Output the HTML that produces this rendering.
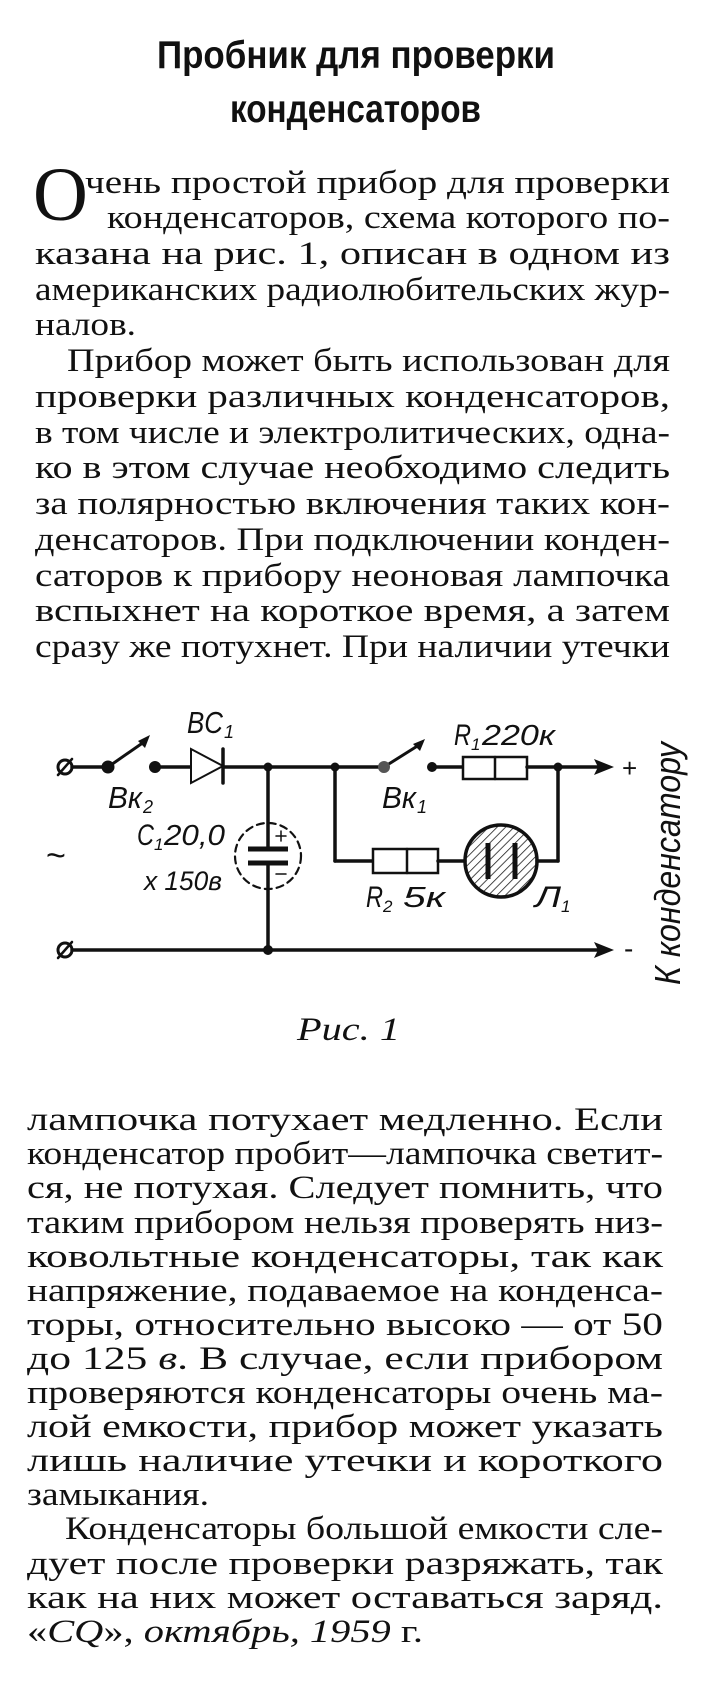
<!DOCTYPE html>
<html><head><meta charset="utf-8"><style>
html,body{margin:0;padding:0;background:#fff}
body{width:705px;height:1685px;position:relative;overflow:hidden}
svg{position:absolute;left:0;top:0}
</style></head><body>
<svg width="705" height="1685" viewBox="0 0 705 1685">
<defs>
<pattern id="h" width="6" height="6" patternUnits="userSpaceOnUse" patternTransform="rotate(45)">
<line x1="0" y1="0" x2="0" y2="6" stroke="#222" stroke-width="1.6"/>
</pattern>
</defs>
<g font-family="Liberation Sans, sans-serif" font-weight="bold" fill="#111">
<text x="157" y="68" font-size="39" textLength="398" lengthAdjust="spacingAndGlyphs">Пробник  для  проверки</text>
<text x="230" y="122" font-size="39" textLength="251" lengthAdjust="spacingAndGlyphs">конденсаторов</text>
</g>
<text x="33" y="220" font-family="Liberation Serif, serif" font-size="76" fill="#111">О</text>

<g font-family="Liberation Serif, serif" font-size="33" fill="#111">
<text x="85" y="193" textLength="585" lengthAdjust="spacingAndGlyphs">чень  простой прибор для проверки</text>
<text x="107" y="228" textLength="563" lengthAdjust="spacingAndGlyphs">конденсаторов, схема которого по-</text>
<text x="35" y="264" textLength="635" lengthAdjust="spacingAndGlyphs">казана на рис. 1, описан в одном из</text>
<text x="35" y="300" textLength="635" lengthAdjust="spacingAndGlyphs">американских радиолюбительских жур-</text>
<text x="35" y="335" textLength="101" lengthAdjust="spacingAndGlyphs">налов.</text>
<text x="67" y="371" textLength="603" lengthAdjust="spacingAndGlyphs">Прибор может быть использован для</text>
<text x="35" y="407" textLength="635" lengthAdjust="spacingAndGlyphs">проверки  различных  конденсаторов,</text>
<text x="35" y="443" textLength="635" lengthAdjust="spacingAndGlyphs">в том числе и электролитических, одна-</text>
<text x="35" y="478" textLength="635" lengthAdjust="spacingAndGlyphs">ко в этом случае необходимо следить</text>
<text x="35" y="514" textLength="635" lengthAdjust="spacingAndGlyphs">за полярностью включения таких кон-</text>
<text x="35" y="550" textLength="635" lengthAdjust="spacingAndGlyphs">денсаторов. При подключении конден-</text>
<text x="35" y="586" textLength="635" lengthAdjust="spacingAndGlyphs">саторов к прибору неоновая лампочка</text>
<text x="35" y="621" textLength="635" lengthAdjust="spacingAndGlyphs">вспыхнет на короткое время, а затем</text>
<text x="35" y="657" textLength="635" lengthAdjust="spacingAndGlyphs">сразу же потухнет. При наличии утечки</text>

<text x="27" y="1130" textLength="636" lengthAdjust="spacingAndGlyphs">лампочка  потухает  медленно.  Если</text>
<text x="27" y="1164" textLength="636" lengthAdjust="spacingAndGlyphs">конденсатор пробит—лампочка светит-</text>
<text x="27" y="1198" textLength="636" lengthAdjust="spacingAndGlyphs">ся, не потухая. Следует помнить, что</text>
<text x="27" y="1233" textLength="636" lengthAdjust="spacingAndGlyphs">таким прибором нельзя проверять низ-</text>
<text x="27" y="1267" textLength="636" lengthAdjust="spacingAndGlyphs">ковольтные  конденсаторы,  так  как</text>
<text x="27" y="1301" textLength="636" lengthAdjust="spacingAndGlyphs">напряжение, подаваемое на конденса-</text>
<text x="27" y="1335" textLength="636" lengthAdjust="spacingAndGlyphs">торы,  относительно  высоко — от  50</text>
<text x="27" y="1369" textLength="636" lengthAdjust="spacingAndGlyphs">до 125 <tspan font-style="italic">в</tspan>. В случае,  если  прибором</text>
<text x="27" y="1403" textLength="636" lengthAdjust="spacingAndGlyphs">проверяются конденсаторы очень ма-</text>
<text x="27" y="1437" textLength="636" lengthAdjust="spacingAndGlyphs">лой емкости, прибор может указать</text>
<text x="27" y="1471" textLength="636" lengthAdjust="spacingAndGlyphs">лишь  наличие  утечки  и  короткого</text>
<text x="27" y="1505" textLength="182" lengthAdjust="spacingAndGlyphs">замыкания.</text>
<text x="65" y="1539" textLength="598" lengthAdjust="spacingAndGlyphs">Конденсаторы большой емкости сле-</text>
<text x="27" y="1574" textLength="636" lengthAdjust="spacingAndGlyphs">дует после проверки разряжать, так</text>
<text x="27" y="1608" textLength="636" lengthAdjust="spacingAndGlyphs">как на них может оставаться заряд.</text>
<text x="27" y="1642" textLength="396" lengthAdjust="spacingAndGlyphs">«<tspan font-style="italic">CQ</tspan>», <tspan font-style="italic">октябрь,  1959</tspan> г.</text>
</g>

<g stroke="#111" stroke-width="3.5" fill="none" stroke-linecap="round">
<circle cx="65" cy="767" r="7" stroke-width="3"/><line x1="58" y1="775" x2="72" y2="759" stroke-width="2.5"/>
<line x1="72" y1="767" x2="108" y2="767"/>
<line x1="108" y1="767" x2="144" y2="742" stroke-width="3"/>
<line x1="155" y1="767" x2="191" y2="767"/>
<polygon points="191,749 191,783 223,766" stroke-width="2" fill="#fff"/>
<line x1="223" y1="749" x2="223" y2="783" stroke-width="3.5"/>
<line x1="223" y1="767" x2="384" y2="767"/>
<line x1="384" y1="767" x2="419" y2="745" stroke-width="3"/>
<line x1="432" y1="767" x2="463" y2="767"/>
<rect x="463" y="757" width="64" height="22" stroke-width="2.5" fill="#fff"/>
<line x1="495" y1="757" x2="495" y2="779" stroke-width="2.5"/>
<line x1="527" y1="767" x2="605" y2="767"/>
<circle cx="65" cy="950" r="7" stroke-width="3"/><line x1="58" y1="958" x2="72" y2="942" stroke-width="2.5"/>
<line x1="72" y1="950" x2="605" y2="950"/>
<line x1="268" y1="767" x2="268" y2="849"/>
<line x1="268" y1="865" x2="268" y2="950"/>
<ellipse cx="268" cy="856" rx="33" ry="33" stroke-width="2.2" stroke-dasharray="7,5"/>
<line x1="248" y1="849" x2="288" y2="849" stroke-width="5" stroke-linecap="butt"/>
<line x1="248" y1="863" x2="288" y2="863" stroke-width="5" stroke-linecap="butt"/>
<line x1="276" y1="836" x2="286" y2="836" stroke-width="1.5"/><line x1="281" y1="831" x2="281" y2="841" stroke-width="1.5"/>
<line x1="276" y1="874" x2="286" y2="874" stroke-width="1.5"/>
<line x1="335" y1="767" x2="335" y2="861"/>
<line x1="335" y1="861" x2="373" y2="861"/>
<rect x="373" y="849" width="65" height="24" stroke-width="2.5" fill="#fff"/>
<line x1="407" y1="849" x2="407" y2="873" stroke-width="2.5"/>
<line x1="438" y1="861" x2="465" y2="861"/>
<circle cx="501" cy="861" r="36" stroke-width="3.5" fill="url(#h)"/>
<line x1="488" y1="843" x2="488" y2="879" stroke-width="5" stroke-linecap="butt"/>
<line x1="515" y1="843" x2="515" y2="879" stroke-width="5" stroke-linecap="butt"/>
<line x1="537" y1="861" x2="558" y2="861"/>
<line x1="558" y1="861" x2="558" y2="767"/>
</g>
<g fill="#111">
<circle cx="108" cy="767" r="6.5"/><circle cx="155" cy="767" r="6"/>
<circle cx="268" cy="767" r="4.5"/><circle cx="335" cy="767" r="4.5"/>
<circle cx="384" cy="767" r="6" fill="#555"/><circle cx="432" cy="767" r="5"/>
<circle cx="558" cy="767" r="4.5"/><circle cx="268" cy="950" r="5"/>
<polygon points="138,741 150,735 145,748"/>
<polygon points="413,744 425,739 420,751"/>
<polygon points="614,767 594,759 598,767 594,775"/>
<polygon points="614,950 594,942 598,950 594,958"/>
</g>
<g font-family="Liberation Sans, sans-serif" font-style="italic" fill="#111">
<text x="187" y="733" font-size="31" textLength="36" lengthAdjust="spacingAndGlyphs">BC</text><text x="224" y="738" font-size="18">1</text>
<text x="108" y="808" font-size="31" textLength="34" lengthAdjust="spacingAndGlyphs">Вк</text><text x="143" y="813" font-size="18">2</text>
<text x="382" y="808" font-size="31" textLength="34" lengthAdjust="spacingAndGlyphs">Вк</text><text x="417" y="813" font-size="18">1</text>
<text x="454" y="745" font-size="30" textLength="17" lengthAdjust="spacingAndGlyphs">R</text><text x="471" y="750" font-size="17">1</text>
<text x="482" y="745" font-size="29" textLength="73" lengthAdjust="spacingAndGlyphs">220к</text>
<text x="137" y="845" font-size="30" textLength="17" lengthAdjust="spacingAndGlyphs">C</text><text x="154" y="850" font-size="17">1</text>
<text x="164" y="845" font-size="29" textLength="61" lengthAdjust="spacingAndGlyphs">20,0</text>
<text x="144" y="890" font-size="27" textLength="78" lengthAdjust="spacingAndGlyphs">х 150в</text>
<text x="366" y="907" font-size="30" textLength="17" lengthAdjust="spacingAndGlyphs">R</text><text x="383" y="912" font-size="17">2</text>
<text x="403" y="907" font-size="29" textLength="42" lengthAdjust="spacingAndGlyphs">5к</text>
<text x="535" y="907" font-size="30" textLength="26" lengthAdjust="spacingAndGlyphs">Л</text><text x="561" y="912" font-size="17">1</text>
<text transform="translate(680,985) rotate(-90)" font-size="36" textLength="243" lengthAdjust="spacingAndGlyphs">К конденсатору</text>
</g>
<text x="622" y="777" font-family="Liberation Sans, sans-serif" font-size="26" fill="#111">+</text>
<text x="624" y="958" font-family="Liberation Sans, sans-serif" font-size="28" fill="#111">-</text>
<text x="46" y="867" font-family="Liberation Sans, sans-serif" font-size="34" fill="#111">~</text>
<text x="297" y="1040" font-family="Liberation Serif, serif" font-style="italic" font-size="33" fill="#111" textLength="103" lengthAdjust="spacingAndGlyphs">Рис.  1</text>
</svg>
</body></html>
